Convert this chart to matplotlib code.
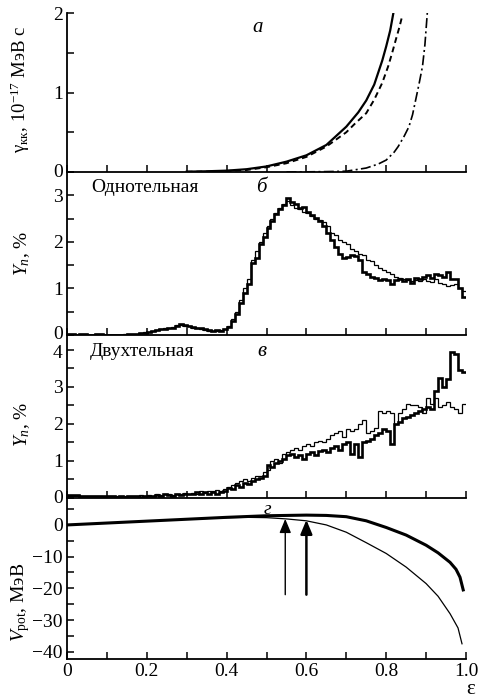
import numpy as np
import matplotlib
matplotlib.use("Agg")
import matplotlib.pyplot as plt
import matplotlib.transforms as mtransforms
from matplotlib.ticker import FixedLocator, FixedFormatter

plt.rcParams['font.family'] = ['Liberation Serif', 'DejaVu Serif']
plt.rcParams['mathtext.fontset'] = 'custom'
plt.rcParams['mathtext.rm'] = 'Liberation Serif'
plt.rcParams['mathtext.it'] = 'Liberation Serif:italic'
plt.rcParams['mathtext.bf'] = 'Liberation Serif:bold'
plt.rcParams['axes.unicode_minus'] = True

# ---------------- data ----------------
# panel a: gamma_kk (1e-17 MeV s)
a_solid_eps = [0.30, 0.35, 0.40, 0.45, 0.50, 0.55, 0.60, 0.65, 0.70, 0.73, 0.75, 0.77, 0.78, 0.79, 0.80, 0.81, 0.818]
a_solid_val = [0.004, 0.009, 0.017, 0.035, 0.07, 0.13, 0.21, 0.34, 0.57, 0.75, 0.90, 1.10, 1.25, 1.40, 1.58, 1.78, 2.00]
a_dash_eps = [0.30, 0.35, 0.40, 0.45, 0.50, 0.55, 0.60, 0.65, 0.70, 0.72, 0.75, 0.77, 0.79, 0.805, 0.815, 0.825, 0.833, 0.84]
a_dash_val = [0.003, 0.006, 0.012, 0.025, 0.06, 0.11, 0.19, 0.32, 0.50, 0.60, 0.74, 0.91, 1.12, 1.33, 1.50, 1.68, 1.82, 1.96]
a_dd_eps = [0.55, 0.60, 0.65, 0.70, 0.75, 0.78, 0.80, 0.82, 0.83, 0.845, 0.857, 0.866, 0.874, 0.882, 0.891, 0.897, 0.903]
a_dd_val = [0.0, 0.002, 0.005, 0.01, 0.05, 0.10, 0.15, 0.25, 0.32, 0.45, 0.57, 0.72, 0.91, 1.10, 1.33, 1.60, 2.00]

# histogram bin edges in epsilon (bin width 0.01)
bin_start = 0.0
bin_width = 0.01

# panel b: one-body yield, %
b_thick = [0.03, 0.03, 0.0, 0.03, 0.03, 0.0, 0.0, 0.02, 0.02, 0.0,
           0.0, 0.0, 0.0, 0.0, 0.0, 0.02, 0.02, 0.03, 0.04, 0.05,
           0.06, 0.08, 0.10, 0.12, 0.12, 0.16, 0.15, 0.20, 0.24, 0.22,
           0.20, 0.18, 0.15, 0.14, 0.12, 0.10, 0.08, 0.10, 0.08, 0.12,
           0.18, 0.30, 0.45, 0.68, 0.90, 1.10, 1.55, 1.65, 1.95, 2.10,
           2.30, 2.45, 2.60, 2.70, 2.80, 2.94, 2.85, 2.82, 2.72, 2.74,
           2.65, 2.58, 2.52, 2.45, 2.35, 2.20, 2.05, 1.90, 1.75, 1.65,
           1.68, 1.72, 1.70, 1.60, 1.35, 1.30, 1.25, 1.22, 1.18, 1.20,
           1.18, 1.10, 1.18, 1.20, 1.15, 1.20, 1.12, 1.22, 1.20, 1.25,
           1.28, 1.22, 1.30, 1.28, 1.25, 1.35, 1.20, 1.20, 1.00, 0.82]
b_thin = [0.03, 0.02, 0.0, 0.02, 0.03, 0.0, 0.0, 0.02, 0.03, 0.0,
          0.0, 0.0, 0.0, 0.0, 0.02, 0.02, 0.03, 0.03, 0.05, 0.06,
          0.07, 0.08, 0.11, 0.12, 0.14, 0.15, 0.17, 0.21, 0.22, 0.20,
          0.19, 0.16, 0.15, 0.12, 0.11, 0.09, 0.08, 0.09, 0.10, 0.13,
          0.20, 0.35, 0.50, 0.75, 1.00, 1.20, 1.60, 1.80, 2.00, 2.20,
          2.35, 2.50, 2.62, 2.72, 2.82, 2.88, 2.80, 2.72, 2.70, 2.65,
          2.62, 2.55, 2.50, 2.48, 2.42, 2.35, 2.20, 2.15, 2.05, 2.00,
          1.95, 1.85, 1.80, 1.75, 1.72, 1.60, 1.58, 1.50, 1.43, 1.40,
          1.36, 1.30, 1.25, 1.22, 1.20, 1.18, 1.15, 1.18, 1.15, 1.20,
          1.15, 1.14, 1.20, 1.12, 1.10, 1.05, 1.08, 1.10, 1.00, 0.95]

# panel v: two-body yield, %
v_thick = [0.08, 0.08, 0.08, 0.05, 0.05, 0.05, 0.06, 0.05, 0.05, 0.05,
           0.05, 0.05, 0.04, 0.05, 0.04, 0.06, 0.05, 0.05, 0.04, 0.06,
           0.06, 0.05, 0.08, 0.06, 0.10, 0.08, 0.06, 0.10, 0.08, 0.10,
           0.12, 0.10, 0.15, 0.12, 0.15, 0.12, 0.15, 0.10, 0.15, 0.20,
           0.28, 0.25, 0.35, 0.30, 0.40, 0.38, 0.45, 0.50, 0.55, 0.60,
           0.90, 0.85, 0.95, 1.00, 1.05, 1.15, 1.20, 1.10, 1.15, 1.05,
           1.20, 1.25, 1.15, 1.28, 1.30, 1.25, 1.35, 1.40, 1.30, 1.45,
           1.50, 1.20, 1.45, 1.10, 1.50, 1.55, 1.60, 1.70, 1.75, 1.85,
           1.80, 1.45, 2.00, 2.05, 2.15, 2.20, 2.25, 2.30, 2.35, 2.40,
           2.45, 2.40, 2.90, 3.25, 3.00, 3.20, 3.95, 3.90, 3.45, 3.40]
v_thin = [0.05, 0.06, 0.05, 0.05, 0.06, 0.05, 0.05, 0.06, 0.05, 0.04,
          0.05, 0.06, 0.05, 0.04, 0.06, 0.05, 0.06, 0.05, 0.07, 0.05,
          0.08, 0.06, 0.10, 0.08, 0.12, 0.10, 0.08, 0.12, 0.10, 0.14,
          0.10, 0.14, 0.12, 0.18, 0.14, 0.20, 0.18, 0.22, 0.20, 0.25,
          0.30, 0.35, 0.40, 0.45, 0.50, 0.45, 0.55, 0.60, 0.60, 0.70,
          0.75, 1.00, 1.05, 0.95, 1.20, 1.25, 1.30, 1.35, 1.30, 1.40,
          1.45, 1.40, 1.50, 1.55, 1.50, 1.60, 1.70, 1.75, 1.80, 1.65,
          1.85, 1.80, 1.85, 2.00, 2.10, 1.75, 1.80, 1.90, 2.35, 2.30,
          2.35, 2.30, 2.00, 2.30, 2.40, 2.55, 2.50, 2.50, 2.45, 2.30,
          2.70, 2.55, 2.70, 2.45, 2.50, 2.60, 2.45, 2.40, 2.30, 2.55]

# panel g: potential, MeV
g_thick_eps = [0.0, 0.1, 0.2, 0.3, 0.4, 0.5, 0.6, 0.65, 0.7, 0.75, 0.8, 0.85, 0.9, 0.93, 0.96, 0.975, 0.985, 0.993]
g_thick_val = [0.0, 0.6, 1.2, 1.8, 2.4, 2.9, 3.1, 3.0, 2.6, 1.3, -0.8, -3.2, -6.4, -8.8, -11.8, -14.0, -16.5, -20.5]
g_thin_eps = [0.0, 0.1, 0.2, 0.3, 0.4, 0.45, 0.5, 0.55, 0.6, 0.65, 0.7, 0.75, 0.8, 0.85, 0.9, 0.93, 0.96, 0.98, 0.99]
g_thin_val = [0.0, 0.6, 1.2, 1.8, 2.3, 2.4, 2.3, 1.9, 1.3, 0.0, -2.3, -5.6, -9.0, -13.3, -18.5, -22.5, -28.0, -32.5, -37.5]
arrow_eps = [0.547, 0.600]
arrow_from = [-22.0, -22.0]
arrow_to = [1.9, 1.6]

x_ticks = [0.0, 0.1, 0.2, 0.3, 0.4, 0.5, 0.6, 0.7, 0.8, 0.9, 1.0]
x_labels = ['0', '', '0.2', '', '0.4', '', '0.6', '', '0.8', '', '1.0']

# ---------------- figure ----------------
W, H = 480, 699
fig = plt.figure(figsize=(W / 100, H / 100), dpi=100)

left = 67 / W
width = (466 - 67) / W

def add_panel(top_px, bot_px):
    return fig.add_axes([left, 1 - bot_px / H, width, (bot_px - top_px) / H])

axA = add_panel(13, 172)
axB = add_panel(172, 335)
axV = add_panel(335, 498)
axG = add_panel(498, 659)

FS = 14
edges = bin_start + bin_width * np.arange(len(b_thick) + 1)

def style(ax, yticks, ylabels, ylim, show_x=False):
    ax.set_xlim(0, 1.0)
    ax.set_ylim(*ylim)
    for s in ['top', 'right']:
        ax.spines[s].set_visible(False)
    for s in ['left', 'bottom']:
        ax.spines[s].set_linewidth(1.3)
    ax.xaxis.set_major_locator(FixedLocator(x_ticks))
    if show_x:
        ax.xaxis.set_major_formatter(FixedFormatter(x_labels))
    else:
        ax.xaxis.set_major_formatter(FixedFormatter([''] * len(x_ticks)))
    ax.yaxis.set_major_locator(FixedLocator(yticks))
    ax.yaxis.set_major_formatter(FixedFormatter(ylabels))
    ax.tick_params(direction='in', length=5, width=1.1, labelsize=FS, pad=3)
    ax.patch.set_alpha(0)

def nudge_ytick(ax, index, dy_px):
    tick = ax.yaxis.get_major_ticks()[index]
    off = mtransforms.ScaledTranslation(0, dy_px / 100, fig.dpi_scale_trans)
    tick.label1.set_transform(tick.label1.get_transform() + off)

# panel a
axA.plot(a_solid_eps, a_solid_val, color='black', lw=1.6)
axA.plot(a_dash_eps, a_dash_val, color='black', lw=1.4, linestyle=(0, (3, 2)))
axA.plot(a_dd_eps, a_dd_val, color='black', lw=1.2, linestyle=(0, (6, 2, 1.2, 2)))
style(axA, [0, 0.5, 1, 1.5, 2], ['0', '', '1', '', '2'], (0, 2.0))
axA.set_ylabel(r'γ$_{\mathrm{кк}}$, 10$^{-17}$ МэВ с', fontsize=FS - 0.5)
axA.yaxis.set_label_coords(-0.088, 0.52)
axA.text(0.478, 0.91, 'а', transform=axA.transAxes, fontsize=FS + 1, style='italic', ha='center', va='center')

# panel b
axB.stairs(b_thin, edges, color='black', lw=0.9, baseline=None)
axB.stairs(b_thick, edges, color='black', lw=1.9, baseline=None)
style(axB, [0, 0.5, 1, 1.5, 2, 2.5, 3, 3.5], ['0', '', '1', '', '2', '', '3', ''], (0, 3.5))
axB.set_ylabel(r'$Y_n$, %', fontsize=FS)
axB.yaxis.set_label_coords(-0.088, 0.5)
axB.text(0.488, 0.905, 'б', transform=axB.transAxes, fontsize=FS + 1, style='italic', ha='center', va='center')
axB.text(0.062, 0.905, 'Однотельная', transform=axB.transAxes, fontsize=FS, ha='left', va='center')

# panel v
axV.stairs(v_thin, edges, color='black', lw=0.9, baseline=None)
axV.stairs(v_thick, edges, color='black', lw=1.9, baseline=None)
style(axV, [0, 0.5, 1, 1.5, 2, 2.5, 3, 3.5, 4], ['0', '', '1', '', '2', '', '3', '', '4'], (0, 4.4))
axV.set_ylabel(r'$Y_n$, %', fontsize=FS)
axV.yaxis.set_label_coords(-0.088, 0.45)
axV.text(0.488, 0.9, 'в', transform=axV.transAxes, fontsize=FS + 1, style='italic', ha='center', va='center')
axV.text(0.058, 0.9, 'Двухтельная', transform=axV.transAxes, fontsize=FS, ha='left', va='center')

# panel g
axG.plot(g_thin_eps, g_thin_val, color='black', lw=0.9)
axG.plot(g_thick_eps, g_thick_val, color='black', lw=2.2)
for ex, y0, y1, lw in zip(arrow_eps, arrow_from, arrow_to, [1.0, 1.8]):
    axG.annotate('', xy=(ex, y1), xytext=(ex, y0),
                 arrowprops=dict(arrowstyle='-|>,head_length=0.6,head_width=0.25', color='black', lw=lw,
                                 mutation_scale=14, shrinkA=0, shrinkB=0))
style(axG, [-40, -35, -30, -25, -20, -15, -10, -5, 0, 5],
      ['−40', '', '−30', '', '−20', '', '−10', '', '0', ''], (-42.3, 8.5), show_x=True)
axG.set_ylabel(r'$V_{\mathrm{pot}}$, МэВ', fontsize=FS)
axG.yaxis.set_label_coords(-0.088, 0.35)
axG.text(0.503, 0.93, 'г', transform=axG.transAxes, fontsize=FS, style='italic', ha='center', va='center')

# keep the stacked "0" (panel б) and "4" (panel в) labels from touching
nudge_ytick(axB, 0, 2.5)
nudge_ytick(axV, 8, -2.0)
nudge_ytick(axA, 0, 1.5)
nudge_ytick(axV, 0, 1.5)

fig.text(471 / W, 1 - 690 / H, 'ε', fontsize=FS + 1, ha='center', va='center')

fig.savefig('out.png', dpi=100)
